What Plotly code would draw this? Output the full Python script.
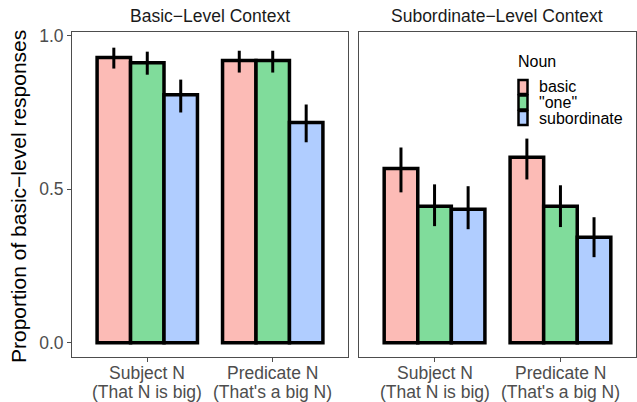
import plotly.graph_objects as go

# Data: proportion of basic-level responses by context, noun type and syntactic position
positions = ["Subject N", "Predicate N"]
examples = ["(That N is big)", "(That's a big N)"]
nouns = ["basic", "\"one\"", "subordinate"]
contexts = ["Basic−Level Context", "Subordinate−Level Context"]

# Basic-level context: means and interval bounds per noun, [subject, predicate]
basic_ctx_means = {
    "basic": [0.929, 0.919],
    "\"one\"": [0.912, 0.919],
    "subordinate": [0.808, 0.717],
}
basic_ctx_hi = {
    "basic": [0.961, 0.951],
    "\"one\"": [0.948, 0.951],
    "subordinate": [0.857, 0.776],
}
basic_ctx_lo = {
    "basic": [0.893, 0.880],
    "\"one\"": [0.873, 0.880],
    "subordinate": [0.750, 0.653],
}

# Subordinate-level context
sub_ctx_means = {
    "basic": [0.568, 0.604],
    "\"one\"": [0.445, 0.445],
    "subordinate": [0.435, 0.344],
}
sub_ctx_hi = {
    "basic": [0.636, 0.665],
    "\"one\"": [0.516, 0.513],
    "subordinate": [0.510, 0.409],
}
sub_ctx_lo = {
    "basic": [0.490, 0.532],
    "\"one\"": [0.380, 0.377],
    "subordinate": [0.370, 0.279],
}

colors = {"basic": "#FCBBB6", "\"one\"": "#80DC9B", "subordinate": "#B0CDFF"}

W, H = 637, 402
FONT = "Liberation Sans, Arial, sans-serif"
fig = go.Figure()

panels = [
    ("x", "y", basic_ctx_means, basic_ctx_hi, basic_ctx_lo),
    ("x2", "y2", sub_ctx_means, sub_ctx_hi, sub_ctx_lo),
]
for xa, ya, means, hi, lo in panels:
    for noun in nouns:
        m = means[noun]
        fig.add_trace(go.Bar(
            x=positions, y=m, name=noun, xaxis=xa, yaxis=ya,
            showlegend=False,
            marker=dict(color=colors[noun], line=dict(color="black", width=3.5)),
            error_y=dict(
                type="data", symmetric=False,
                array=[h - v for h, v in zip(hi[noun], m)],
                arrayminus=[v - l for v, l in zip(m, lo[noun])],
                color="black", thickness=3, width=0,
            ),
        ))


def px_x(p):
    return p / W


def px_y(p):
    return 1 - p / H


ydom = [px_y(357), px_y(32)]
yrange = [-0.046, 1.012]
axis_line = dict(showline=True, linecolor="#4D4D4D", linewidth=1, mirror=True,
                 showgrid=False, zeroline=False, automargin=False)
tickfont = dict(family=FONT, size=17.5, color="#4D4D4D")

fig.update_layout(
    width=W, height=H,
    margin=dict(l=0, r=0, t=0, b=0, autoexpand=False),
    paper_bgcolor="white", plot_bgcolor="white",
    barmode="group", bargap=0.2, bargroupgap=0,
    font=dict(family=FONT, size=16, color="#1A1A1A"),
    xaxis=dict(domain=[px_x(72), px_x(348)], anchor="y", range=[-0.6, 1.6],
               ticks="outside", ticklen=4, tickcolor="#4D4D4D",
               showticklabels=False, **axis_line),
    xaxis2=dict(domain=[px_x(359), px_x(636)], anchor="y2", range=[-0.6, 1.6],
                ticks="outside", ticklen=4, tickcolor="#4D4D4D",
                showticklabels=False, **axis_line),
    yaxis=dict(domain=ydom, anchor="x", range=yrange, tickvals=[0, 0.5, 1.0],
               tickformat=".1f", ticks="outside", ticklen=4, tickcolor="#4D4D4D",
               tickfont=tickfont, **axis_line),
    yaxis2=dict(domain=ydom, anchor="x2", range=yrange, showticklabels=False,
                ticks="", **axis_line),
    showlegend=False,
)

annotations = [
    dict(text=contexts[0], x=px_x(210), y=px_y(16), xref="paper", yref="paper",
         xanchor="center", yanchor="middle", showarrow=False,
         font=dict(family=FONT, size=17.5, color="#1A1A1A")),
    dict(text=contexts[1], x=px_x(497.5), y=px_y(16), xref="paper", yref="paper",
         xanchor="center", yanchor="middle", showarrow=False,
         font=dict(family=FONT, size=17.5, color="#1A1A1A")),
    dict(text="Proportion of basic−level responses", x=px_x(18), y=px_y(197),
         xref="paper", yref="paper", xanchor="center", yanchor="middle",
         showarrow=False, textangle=-90,
         font=dict(family=FONT, size=21, color="black")),
    dict(text="Noun", x=px_x(516), y=px_y(62), xref="paper", yref="paper",
         xanchor="left", yanchor="middle", showarrow=False,
         font=dict(family=FONT, size=16, color="black")),
]

# Two-line category labels under each panel, set tighter than <br> spacing
for xref in ("x", "x2"):
    for i, (pos, ex) in enumerate(zip(positions, examples)):
        for text, ypx in ((pos, 373), (ex, 391.5)):
            annotations.append(dict(text=text, x=i, y=px_y(ypx), xref=xref,
                                    yref="paper", xanchor="center",
                                    yanchor="middle", showarrow=False,
                                    font=tickfont))

# Legend keys for the noun fill colours
shapes = []
key_rows = [(80, 94), (95.5, 109.5), (111, 125)]
for noun, (top, bot) in zip(nouns, key_rows):
    shapes.append(dict(type="rect", xref="paper", yref="paper",
                       x0=px_x(518.5), x1=px_x(527.5), y0=px_y(bot), y1=px_y(top),
                       fillcolor=colors[noun], line=dict(color="black", width=2.5)))
    annotations.append(dict(text=noun, x=px_x(537), y=px_y((top + bot) / 2),
                            xref="paper", yref="paper", xanchor="left",
                            yanchor="middle", showarrow=False,
                            font=dict(family=FONT, size=16, color="black")))

fig.update_layout(annotations=annotations, shapes=shapes)

fig.write_html("out.html")
